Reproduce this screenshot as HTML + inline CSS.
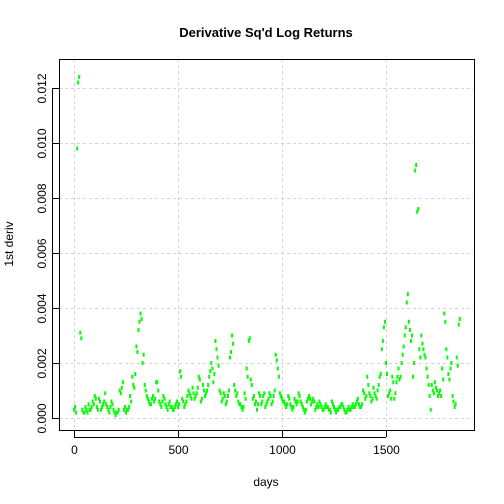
<!DOCTYPE html>
<html><head><meta charset="utf-8"><style>
body{margin:0;background:#fff;}
svg{display:block;font-family:"Liberation Sans",Arial,sans-serif;}
</style></head><body>
<svg id="chart" width="504" height="504" viewBox="0 0 504 504">
<rect width="504" height="504" fill="#fff"/>
<text x="266" y="37" text-anchor="middle" font-size="13" font-weight="bold">Derivative Sq'd Log Returns</text>
<text x="266" y="486" text-anchor="middle" font-size="12">days</text>
<text transform="translate(13,244) rotate(-90)" text-anchor="middle" font-size="12">1st deriv</text>
<g id="grid"></g><g id="marks"></g><g id="axes"></g>
<rect x="59.5" y="59.5" width="415" height="371" fill="none" stroke="#000"/>
</svg>
<script>
const xTicks=[0,500,1000,1500];
const yTicks=[0,0.002,0.004,0.006,0.008,0.010,0.012];
const yTickLabels=["0.000","0.002","0.004","0.006","0.008","0.010","0.012"];
const dayStep=5;
const values=[0.3,0.4,0.2,9.8,12.2,12.4,3.1,2.9,0.3,0.2,0.2,0.4,0.3,0.2,0.5,0.3,0.3,0.4,0.6,0.5,0.8,0.7,0.4,0.3,0.7,0.6,0.3,0.4,0.5,0.6,0.9,0.5,0.4,0.3,0.2,0.4,0.6,0.5,0.3,0.2,0.1,0.2,0.2,0.3,1.0,0.9,1.1,1.3,0.3,0.4,0.2,0.3,0.3,0.4,0.8,0.6,1.5,1.2,1.1,1.6,2.6,2.4,3.2,3.5,3.8,3.6,2.0,2.3,1.2,1.0,0.8,0.7,0.6,0.5,0.5,0.7,0.8,0.6,0.7,1.3,1.3,1.0,0.6,0.5,0.4,0.6,0.8,0.7,0.5,0.4,0.3,0.5,0.6,0.4,0.4,0.3,0.3,0.4,0.5,0.6,0.4,0.5,1.7,1.5,0.7,0.6,0.4,0.5,0.6,0.8,1.0,0.9,0.8,0.7,1.1,0.9,0.7,0.8,0.9,1.1,1.5,1.4,0.6,0.7,1.2,1.0,0.8,0.9,1.0,1.2,1.5,1.7,2.0,1.8,1.3,1.6,2.8,2.5,2.2,1.9,1.0,0.9,0.6,0.7,0.9,0.8,0.5,0.6,0.8,1.0,2.2,2.4,3.0,2.7,1.2,1.0,0.8,0.9,0.6,0.5,0.5,0.4,0.3,0.4,0.9,0.7,1.8,1.5,2.8,2.9,1.4,1.2,0.7,0.8,0.5,0.6,0.3,0.5,0.9,0.8,0.5,0.6,0.8,0.9,0.4,0.5,0.6,0.7,0.9,0.8,0.5,0.6,0.8,1.0,2.3,2.1,1.8,1.5,0.9,0.8,0.7,0.6,0.6,0.5,0.4,0.5,0.8,0.7,0.5,0.4,0.3,0.4,0.7,0.6,0.5,0.6,0.9,0.8,0.6,0.5,0.4,0.3,0.2,0.3,0.6,0.7,0.8,0.7,0.5,0.6,0.7,0.6,0.3,0.4,0.5,0.4,0.6,0.5,0.4,0.3,0.3,0.4,0.5,0.4,0.4,0.3,0.3,0.2,0.6,0.5,0.4,0.3,0.2,0.3,0.3,0.4,0.4,0.5,0.5,0.4,0.3,0.2,0.2,0.3,0.4,0.3,0.3,0.4,0.5,0.4,0.4,0.5,0.6,0.7,0.5,0.4,0.4,0.5,1.0,0.9,0.7,0.8,1.5,1.2,0.9,0.8,0.6,0.7,1.1,0.9,0.8,0.7,1.0,1.2,1.5,1.6,2.5,2.8,3.3,3.5,2.0,1.6,0.8,0.9,1.0,0.7,1.5,1.3,0.7,0.9,1.3,1.5,1.8,1.4,1.5,2.0,2.3,2.6,3.0,3.3,4.2,4.5,3.5,3.2,2.8,3.0,1.5,2.0,9.0,9.2,7.5,7.6,2.5,2.2,3.0,2.7,2.5,2.3,2.2,1.8,1.5,1.2,0.8,0.3,1.2,1.0,0.9,1.3,1.1,1.0,0.8,0.9,1.0,0.8,1.8,1.4,3.8,3.5,2.5,2.2,1.6,1.4,1.8,2.0,0.8,0.6,0.4,0.5,2.2,1.9,3.4,3.6];
const NS="http://www.w3.org/2000/svg";
const xS=d=>74+d*104/500;
const yS=v=>418-v*27500;
function mk(t,a,p){const e=document.createElementNS(NS,t);for(const k in a)e.setAttribute(k,a[k]);p.appendChild(e);return e;}
const grid=document.getElementById('grid'),marks=document.getElementById('marks'),axes=document.getElementById('axes');
xTicks.forEach(t=>{const x=Math.round(xS(t))+0.5;
 const g=mk('line',{x1:x,x2:x,y1:59,y2:430,stroke:'#d3d3d3','stroke-dasharray':'3,3'},grid);
 
 
 const tk=mk('line',{x1:x,x2:x,y1:430,y2:437,stroke:'#000'},axes);
 
 
 const tx=mk('text',{x:x,y:454,'text-anchor':'middle','font-size':'12'},axes);tx.textContent=t;
 
 
});
mk('line',{x1:74,x2:386,y1:437.5,y2:437.5,stroke:'#000'},axes);
yTicks.forEach((t,i)=>{const y=Math.round(yS(t))+0.5;
 const g=mk('line',{x1:59,x2:474,y1:y,y2:y,stroke:'#d3d3d3','stroke-dasharray':'3,3'},grid);
 
 
 const tk=mk('line',{x1:52,x2:59,y1:y,y2:y,stroke:'#000'},axes);
 
 
 const tx=mk('text',{transform:`translate(46,${y}) rotate(-90)`,'text-anchor':'middle','font-size':'12'},axes);tx.textContent=yTickLabels[i];
 
 
});
mk('line',{x1:52.5,x2:52.5,y1:yS(0),y2:yS(0.012),stroke:'#000'},axes);
values.forEach((v,i)=>{const x=xS(i*dayStep),y=yS(v/1000);
 const r=mk('rect',{x:x-1,y:y-2,width:2,height:4,fill:'#00ff00'},marks);
 
 
});
</script>
</body></html>
